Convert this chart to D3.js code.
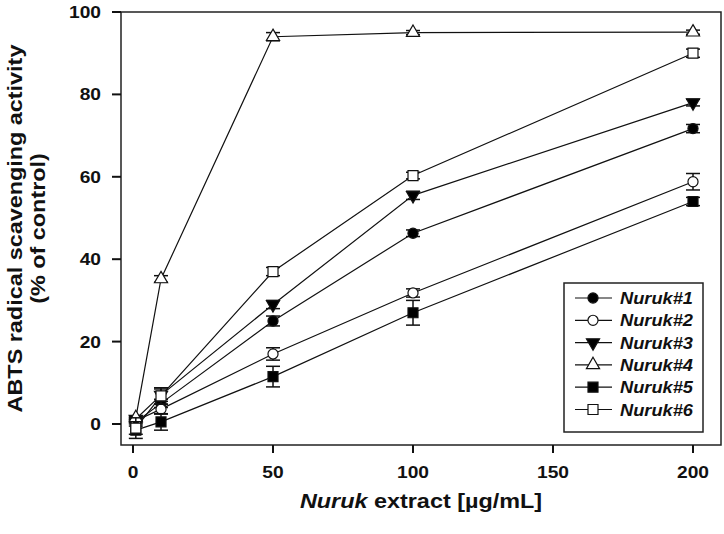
<!DOCTYPE html>
<html>
<head>
<meta charset="utf-8">
<script src="https://cdn.jsdelivr.net/npm/d3@7"></script>
<style>
  body { margin: 0; background: #fff; }
  text { font-family: "Liberation Sans", Arial, sans-serif; font-weight: bold; fill: #111; }
</style>
</head>
<body>
<svg id="chart" width="724" height="534"></svg>
<script>
// --- data ---
const doses = [1, 10, 50, 100, 200];
const seriesNames = ['Nuruk#1', 'Nuruk#2', 'Nuruk#3', 'Nuruk#4', 'Nuruk#5', 'Nuruk#6'];
const nuruk1 = [0.5, 5, 25, 46.3, 71.7];
const nuruk2 = [0.8, 3.6, 17, 31.8, 58.8];
const nuruk3 = [1.2, 7, 29, 55.5, 78];
const nuruk4 = [1.5, 35.2, 94, 95, 95.1];
const nuruk5 = [-1.5, 0.5, 11.5, 27, 54];
const nuruk6 = [-1, 6.8, 37, 60.3, 90];
const err1 = [0.5, 1, 1.2, 0.8, 1];
const err2 = [0.5, 1.2, 1.5, 1, 2];
const err3 = [0.5, 1.5, 1, 1, 0.8];
const err4 = [0.5, 0.8, 1, 0.5, 0.5];
const err5 = [1, 2, 2.5, 3, 1];
const err6 = [2.5, 2, 1, 0.8, 1];
const xTicks = [0, 50, 100, 150, 200];
const yTicks = [0, 20, 40, 60, 80, 100];
const xTitleItalic = 'Nuruk';
const xTitleRest = ' extract [\u00b5g/mL]';
const yTitle1 = 'ABTS radical scavenging activity';
const yTitle2 = '(% of control)';

const values = [nuruk1, nuruk2, nuruk3, nuruk4, nuruk5, nuruk6];
const errors = [err1, err2, err3, err4, err5, err6];

// marker look per series
const markers = [
  { type: d3.symbolCircle, size: 80, fill: '#000', rot: 0 },
  { type: d3.symbolCircle, size: 80, fill: '#fff', rot: 0 },
  { type: d3.symbolTriangle, size: 75, fill: '#000', rot: 180 },
  { type: d3.symbolTriangle, size: 75, fill: '#fff', rot: 0 },
  { type: d3.symbolSquare, size: 100, fill: '#000', rot: 0 },
  { type: d3.symbolSquare, size: 100, fill: '#fff', rot: 0 }
];

const svg = d3.select('#chart');
const SX = 1.2; // figure text is a bit wide

const plot = { left: 121, right: 721, top: 12, bottom: 445 };
const x = d3.scaleLinear().domain([-4.29, 210]).range([plot.left, plot.right]);
const y = d3.scaleLinear().domain([-5.1, 100]).range([plot.bottom, plot.top]);

function label(g, px, py, anchor, size, sx) {
  return g.append('text')
    .attr('transform', `translate(${px},${py}) scale(${sx},1)`)
    .attr('text-anchor', anchor)
    .style('font-size', size + 'px');
}

// frame
svg.append('rect')
  .attr('x', plot.left).attr('y', plot.top)
  .attr('width', plot.right - plot.left).attr('height', plot.bottom - plot.top)
  .attr('fill', 'none').attr('stroke', '#222').attr('stroke-width', 1.5);

// axes ticks
const axes = svg.append('g');
axes.selectAll('line.xt').data(xTicks).join('line')
  .attr('x1', d => x(d)).attr('x2', d => x(d))
  .attr('y1', plot.bottom).attr('y2', plot.bottom + 8)
  .attr('stroke', '#111').attr('stroke-width', 2);
xTicks.forEach(d => label(axes, x(d), plot.bottom + 33, 'middle', 16, SX).text(d));

axes.selectAll('line.yt').data(yTicks).join('line')
  .attr('x1', plot.left - 9).attr('x2', plot.left)
  .attr('y1', d => y(d)).attr('y2', d => y(d))
  .attr('stroke', '#111').attr('stroke-width', 2);
yTicks.forEach(d => label(axes, plot.left - 20, y(d) + 6, 'end', 16, SX).text(d));

// axis titles
const xt = label(axes, (plot.left + plot.right) / 2, 508, 'middle', 20, 1.17);
xt.append('tspan').style('font-style', 'italic').text(xTitleItalic);
xt.append('tspan').text(xTitleRest);

const midY = (plot.top + plot.bottom) / 2;
[[yTitle1, 22], [yTitle2, 45]].forEach(([t, bx]) => {
  axes.append('text')
    .attr('transform', `translate(${bx},${midY}) rotate(-90) scale(1.17,1.05)`)
    .attr('text-anchor', 'middle')
    .style('font-size', '20px')
    .text(t);
});

// series lines
const line = d3.line().x((d, i) => x(doses[i])).y(d => y(d));
const gl = svg.append('g');
values.forEach(v => {
  gl.append('path').attr('d', line(v))
    .attr('fill', 'none').attr('stroke', '#111').attr('stroke-width', 1.2);
});

// error bars + markers
const cap = 7;
values.forEach((v, s) => {
  const g = svg.append('g');
  v.forEach((val, i) => {
    const e = errors[s][i];
    const cx = x(doses[i]);
    g.append('line').attr('x1', cx).attr('x2', cx)
      .attr('y1', y(val - e)).attr('y2', y(val + e))
      .attr('stroke', '#111').attr('stroke-width', 1.5);
    [val - e, val + e].forEach(b => {
      g.append('line').attr('x1', cx - cap).attr('x2', cx + cap)
        .attr('y1', y(b)).attr('y2', y(b))
        .attr('stroke', '#111').attr('stroke-width', 1.5);
    });
  });
  const m = markers[s];
  g.selectAll('path.mk').data(v).join('path')
    .attr('d', d3.symbol().type(m.type).size(m.size))
    .attr('transform', (d, i) => `translate(${x(doses[i])},${y(d)}) rotate(${m.rot})`)
    .attr('fill', m.fill).attr('stroke', '#111').attr('stroke-width', 1.2);
});

// legend
const leg = { left: 564, top: 283, right: 703, bottom: 432 };
const lg = svg.append('g');
lg.append('rect')
  .attr('x', leg.left).attr('y', leg.top)
  .attr('width', leg.right - leg.left).attr('height', leg.bottom - leg.top)
  .attr('fill', '#fff').attr('stroke', '#222').attr('stroke-width', 1.5);
seriesNames.forEach((name, s) => {
  const ly = leg.top + 15 + s * 22.3;
  lg.append('line').attr('x1', leg.left + 11).attr('x2', leg.left + 48)
    .attr('y1', ly).attr('y2', ly).attr('stroke', '#111').attr('stroke-width', 1.2);
  const m = markers[s];
  lg.append('path')
    .attr('d', d3.symbol().type(m.type).size(m.size))
    .attr('transform', `translate(${leg.left + 29},${ly}) rotate(${m.rot})`)
    .attr('fill', m.fill).attr('stroke', '#111').attr('stroke-width', 1.2);
  label(lg, leg.left + 56, ly + 6, 'start', 16, 1.14)
    .style('font-style', 'italic').text(name);
});
</script>
</body>
</html>
